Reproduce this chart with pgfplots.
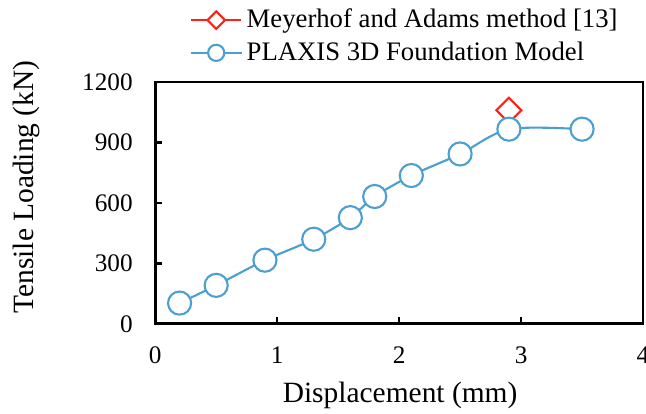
\documentclass[border=0pt]{standalone}
\usepackage{fontspec}
\setmainfont{Liberation Serif}
\usepackage{pgfplots}
\pgfplotsset{compat=1.18}
\definecolor{plaxblue}{RGB}{75,159,209}
\definecolor{mared}{RGB}{255,32,24}
\begin{document}
\begin{tikzpicture}
\begin{axis}[
    scale only axis,
    width=232pt,
    height=115pt,
    xmin=0, xmax=4,
    ymin=0, ymax=1200,
    xtick={0,1,2,3,4},
    ytick={0,300,600,900,1200},
    axis line style={line width=1.3pt},
    tick style={line width=1.1pt, black},
    major tick length=3.3pt,
    tick align=inside,
    xtick pos=bottom,
    ytick pos=left,
    /pgf/number format/assume math mode=true,
    /pgf/number format/1000 sep={},
    tick label style={font=\fontsize{12}{14}\selectfont},
    xticklabel style={yshift=-7.2pt},
    yticklabel style={xshift=-7.2pt},
    xlabel={Displacement (mm)},
    ylabel={Tensile Loading (kN)},
    every axis x label/.style={at={(axis description cs:0.502,0)}, anchor=base, yshift=-37.6pt,
        font=\fontsize{14}{16}\selectfont},
    every axis y label/.style={at={(axis description cs:-0.263,0.566)}, rotate=90, anchor=center,
        inner sep=0pt, font=\fontsize{14}{16}\selectfont},
    legend style={at={(axis description cs:0.066,1.048)}, anchor=south west, draw=none, fill=none,
        font=\fontsize{12.7}{15}\selectfont, inner sep=1pt, row sep=1.2pt,
        cells={anchor=west}},
    legend image code/.code={\draw[mark repeat=2, mark phase=2] plot coordinates {(0pt,0pt) (12pt,0pt) (24pt,0pt)};},
    legend image post style={every mark/.append style={scale=0.7}},
    legend cell align=left,
]
\addplot[color=mared, line width=1pt, mark=square*, mark size=4.2pt,
    mark options={fill=white, rotate=45, line width=1pt}]
    coordinates {(2.9,1060)};
\addplot[color=plaxblue, line width=1pt, smooth, mark=*, mark size=5.5pt,
    mark options={fill=white, line width=1pt}]
    coordinates {
    (0.2,103)
    (0.5,191)
    (0.9,316)
    (1.3,420)
    (1.6,527)
    (1.8,632)
    (2.1,736)
    (2.5,843)
    (2.9,966)
    (3.5,966)
    };
\legend{Meyerhof and Adams method [13], PLAXIS 3D Foundation Model}
\end{axis}
\pgfresetboundingbox
\path[use as bounding box] ([xshift=-73.8pt, yshift=-42.4pt]current axis.south west)
    rectangle ([xshift=1.4pt, yshift=39pt]current axis.north east);
\end{tikzpicture}
\end{document}
